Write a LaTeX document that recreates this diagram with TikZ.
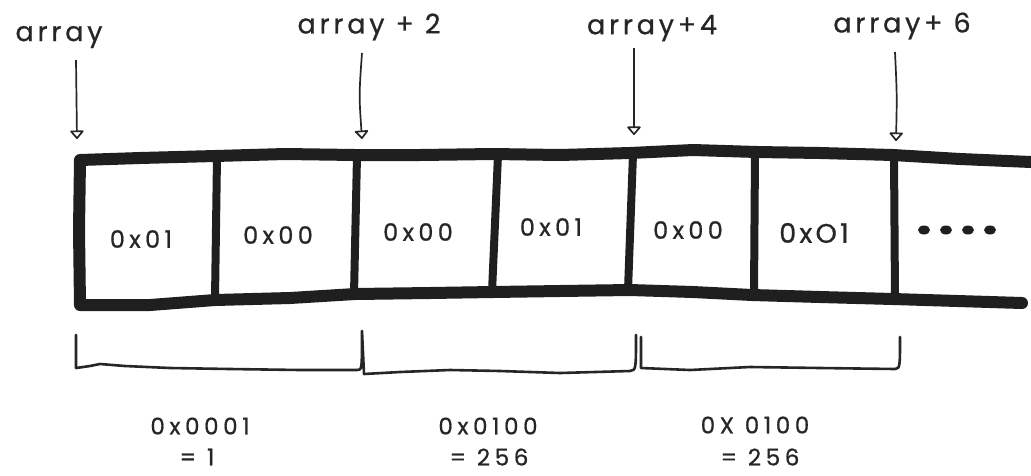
\documentclass[tikz,border=0pt]{standalone}
\usepackage{fontspec}
\setmainfont{Poppins}[FakeBold=0.7]
\usetikzlibrary{arrows.meta}
\begin{document}
\begin{tikzpicture}[x=1pt,y=-1pt,
  thick box/.style={line width=12pt,line cap=round,line join=round,color=black!88},
  divider/.style={line width=8pt,line cap=round,color=black!88},
  pointer/.style={line width=1.7pt,color=black!85,-{Triangle[open,round,length=9pt,width=15pt,line width=1.7pt]}},
  brace/.style={line width=2.6pt,color=black!85,line cap=round,line join=round},
  cell/.style={font=\fontsize{24}{26}\selectfont\addfontfeature{LetterSpace=18},text=black!85,inner sep=0pt},
  lab/.style={font=\fontsize{27}{30}\selectfont\addfontfeature{LetterSpace=14},text=black!85,inner sep=0pt},
  sumlab/.style={font=\fontsize{23}{26}\selectfont\addfontfeature{LetterSpace=20},text=black!85,inner sep=0pt}]
\useasboundingbox (0,0) rectangle (1031,475);
% array outline
\draw[thick box] (1031,162) -- (960,159) -- (893,155) -- (820,153) -- (757,152) -- (693,150) -- (630,153) -- (560,155) -- (493,154) -- (420,155) -- (355,155) -- (285,154) -- (215,156) -- (140,158) -- (80,160) -- (79,230) -- (80,305) -- (150,305) -- (215,300) -- (290,298) -- (355,294) -- (430,293) -- (493,292) -- (560,291) -- (630,290) -- (693,292) -- (752,295) -- (820,297) -- (893,299) -- (1022,303);
% dividers
\coordinate (d1t) at (217,157); \coordinate (d1b) at (215,299);
\coordinate (d2t) at (357,156); \coordinate (d2b) at (354,294);
\coordinate (d3t) at (498,155); \coordinate (d3b) at (492,292);
\coordinate (d4t) at (633,154); \coordinate (d4b) at (628,290);
\coordinate (d5t) at (755,152); \coordinate (d5b) at (754,295);
\coordinate (d6t) at (894,155); \coordinate (d6b) at (895,299);
\foreach \i in {1,...,6} \draw[divider] (d\i t) -- (d\i b);
% cell labels
\node[cell] (c1) at (141,239) {0x01};
\node[cell] (c2) at (278,235) {0x00};
\node[cell] (c3) at (418,232) {0x00};
\node[cell] (c4) at (551,227) {0x01};
\node[cell] (c5) at (688,230) {0x00};
\node[cell,font=\fontsize{27}{29}\selectfont\addfontfeature{LetterSpace=12}] (c6) at (814,233) {0xO1};
\node[inner sep=0pt] (c7) at (957,230) {\tikz[x=1pt,y=-1pt]{\foreach \dx in {0,22,44,66}\fill[black!88] (\dx,0) ellipse (6pt and 4.5pt);}};
% pointer labels
\node[lab] (p0) at (59,37) {array};
\node[lab] (p2) at (369,27) {array + 2};
\node[lab] (p4) at (652,28) {array+4};
\node[lab] (p6) at (902,26) {array+ 6};
\coordinate (a0s) at (76,60);  \coordinate (a0e) at (77,139);
\coordinate (a2s) at (362,53); \coordinate (a2e) at (362,139);
\coordinate (a4s) at (634,48); \coordinate (a4e) at (634,135);
\coordinate (a6s) at (895,52); \coordinate (a6e) at (896,141);
\draw[pointer] (a0s) -- (a0e);
\draw[pointer] (a2s) .. controls (359,95) .. (a2e);
\draw[pointer] (a4s) -- (a4e);
\draw[pointer] (a6s) .. controls (897,95) .. (a6e);
% braces
\draw[brace] (76,335) -- (76,368) -- (90,366) -- (100,364) -- (125,366) -- (170,368) -- (230,369) -- (300,370) -- (357,370) .. controls (362,370) .. (362,331) -- (364,374) -- (400,372) -- (450,370) -- (500,371) -- (560,373) -- (630,371) .. controls (636,370) .. (636,335);
\draw[brace] (641,337) -- (641,368) -- (690,370) -- (750,367) -- (820,368) -- (895,369) .. controls (900,368) .. (900,337);
% sums
\node[sumlab] (s1a) at (200,426) {0x0001};
\node[sumlab] (s1b) at (197,457) {= 1};
\node[sumlab] (s2a) at (488,426) {0x0100};
\node[sumlab] (s2b) at (489,457) {= 256};
\node[sumlab] (s3a) at (755,425) {0X 0100};
\node[sumlab] (s3b) at (760,457) {= 256};
\end{tikzpicture}
\end{document}
